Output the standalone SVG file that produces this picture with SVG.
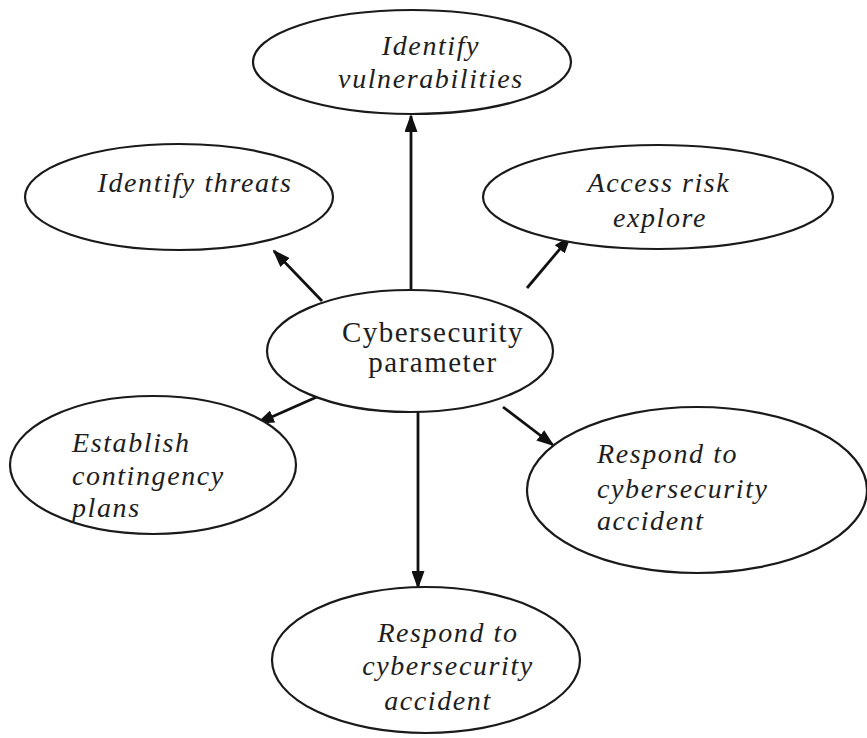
<svg xmlns="http://www.w3.org/2000/svg" width="867" height="738" viewBox="0 0 867 738">
<defs>
<style>
.node ellipse{fill:#fff;stroke:#1a1a1a;stroke-width:2.2}
.it{font-family:"Liberation Serif","Times New Roman",serif;font-style:italic;font-size:28px;letter-spacing:1.6px;fill:#1e1e1e}
.up{font-family:"Liberation Serif","Times New Roman",serif;font-size:29px;letter-spacing:1.5px;fill:#1e1e1e}
.mid{text-anchor:middle}
.conn line{stroke:#111;stroke-width:2.8}
</style>
<marker id="ah" viewBox="0 0 18 13" refX="16" refY="6.5" markerWidth="18" markerHeight="13" markerUnits="userSpaceOnUse" orient="auto">
<path d="M0,0 L18,6.5 L0,13 z" fill="#111"/>
</marker>
</defs>
<rect width="867" height="738" fill="#fff"/>
<g id="connectors" class="conn">
<line x1="411" y1="290" x2="411" y2="116" marker-end="url(#ah)"/>
<line x1="322" y1="301" x2="274" y2="251" marker-end="url(#ah)"/>
<line x1="527" y1="288" x2="570" y2="237" marker-end="url(#ah)"/>
<line x1="319" y1="396" x2="258" y2="423" marker-end="url(#ah)"/>
<line x1="503" y1="407" x2="553" y2="445" marker-end="url(#ah)"/>
<line x1="418" y1="409" x2="418" y2="587" marker-end="url(#ah)"/>
</g>
<g id="n-vuln" class="node">
<ellipse cx="412" cy="62" rx="159" ry="52"/>
<text class="it mid" x="431" y="55">Identify</text>
<text class="it mid" x="431" y="88">vulnerabilities</text>
</g>
<g id="n-threats" class="node">
<ellipse cx="179" cy="197" rx="154" ry="53"/>
<text class="it mid" x="195" y="192">Identify threats</text>
</g>
<g id="n-risk" class="node">
<ellipse cx="658" cy="197" rx="175" ry="52"/>
<text class="it mid" x="659" y="192">Access risk</text>
<text class="it mid" x="660" y="227">explore</text>
</g>
<g id="n-center" class="node">
<ellipse cx="410" cy="351" rx="143" ry="61"/>
<text class="up mid" x="433" y="342">Cybersecurity</text>
<text class="up mid" x="433" y="372">parameter</text>
</g>
<g id="n-contingency" class="node">
<ellipse cx="153" cy="465" rx="143" ry="69"/>
<text class="it" x="72" y="452">Establish</text>
<text class="it" x="72" y="485">contingency</text>
<text class="it" x="72" y="517">plans</text>
</g>
<g id="n-respond-right" class="node">
<ellipse cx="697" cy="490" rx="170" ry="83"/>
<text class="it" x="597" y="463">Respond to</text>
<text class="it" x="597" y="498">cybersecurity</text>
<text class="it" x="597" y="530">accident</text>
</g>
<g id="n-respond-bottom" class="node">
<ellipse cx="426" cy="660" rx="154" ry="73"/>
<text class="it mid" x="448" y="642">Respond to</text>
<text class="it mid" x="448" y="675">cybersecurity</text>
<text class="it mid" x="438" y="710">accident</text>
</g>
</svg>
